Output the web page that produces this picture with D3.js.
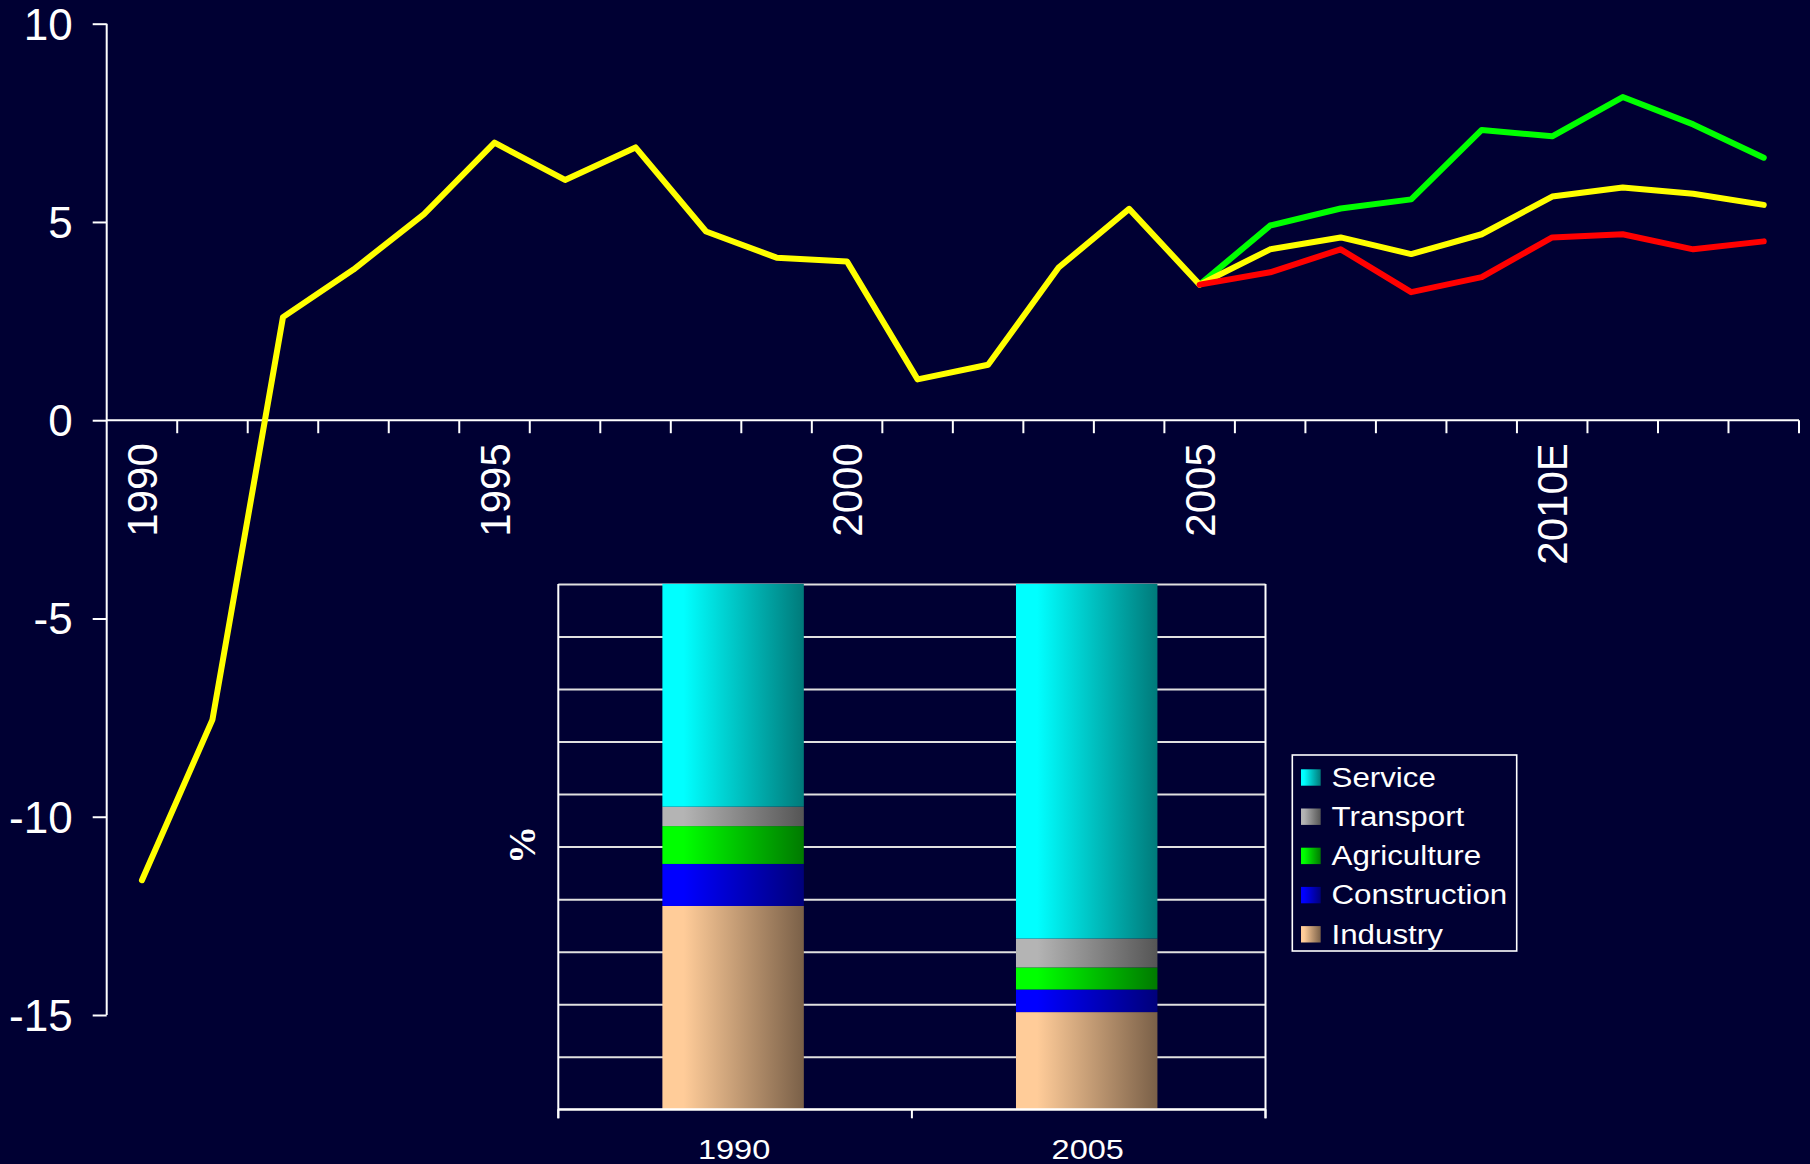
<!DOCTYPE html>
<html>
<head>
<meta charset="utf-8">
<script src="https://cdn.jsdelivr.net/npm/d3@7"></script>
<style>
  html, body { margin: 0; padding: 0; background: #000033; }
  svg { display: block; }
  text { font-family: "Liberation Sans", Arial, sans-serif; fill: #ffffff; }
</style>
</head>
<body>
<svg id="chart" width="1810" height="1164"></svg>
<script>
// ---------- data ----------
const categories = ["1990","1991","1992","1993","1994","1995","1996","1997","1998","1999",
  "2000","2001","2002","2003","2004","2005","2006E","2007E","2008E","2009E",
  "2010E","2011E","2012E","2013E"];
const shownLabels = ["1990","1995","2000","2005","2010E"];
const yTicks = [10, 5, 0, -5, -10, -15];

const baseCase = [-11.6, -7.55, 2.6, 3.8, 5.2, 7.0, 6.06, 6.88, 4.76, 4.1,
  4.0, 1.03, 1.4, 3.85, 5.33, 3.42, 4.31, 4.61, 4.19, 4.69,
  5.64, 5.87, 5.71, 5.43];
const highCase = [null, null, null, null, null, null, null, null, null, null,
  null, null, null, null, null, 3.42, 4.91, 5.34, 5.57, 7.32,
  7.16, 8.15, 7.46, 6.62];
const lowCase = [null, null, null, null, null, null, null, null, null, null,
  null, null, null, null, null, 3.42, 3.73, 4.31, 3.23, 3.61,
  4.61, 4.69, 4.31, 4.51];

const insetCategories = ["1990", "2005"];
const sectors = ["Industry", "Construction", "Agriculture", "Transport", "Service"];
const industry     = [38.7, 18.5];
const construction = [8.0, 4.3];
const agriculture  = [7.2, 4.2];
const transport    = [3.7, 5.5];
const service      = [42.4, 67.5];
const insetTicks = [0, 10, 20, 30, 40, 50, 60, 70, 80, 90, 100];

// ---------- setup ----------
const svg = d3.select("#chart");
svg.append("rect").attr("width", 1810).attr("height", 1164).attr("fill", "#000033");

// ---------- main chart ----------
const x = d3.scaleBand().domain(categories).range([106.7, 1799]).padding(0);
const y = d3.scaleLinear().domain([-15, 10]).range([1015, 23.7]);
const cx = c => x(c) + x.bandwidth() / 2;

// y axis
const yAxis = d3.axisLeft(y).tickValues(yTicks).tickSize(14).tickPadding(0).tickFormat(d => String(d));
const gy = svg.append("g").attr("transform", "translate(106.7,0)").call(yAxis);
gy.select(".domain").attr("stroke", "#fff").attr("stroke-width", 2).attr("d", `M0,${y(10)}V${y(-15)}`);
gy.selectAll(".tick line").attr("stroke", "#fff").attr("stroke-width", 2);
gy.selectAll(".tick text").attr("x", -34).attr("dy", "0.35em")
  .style("font-size", "44px").attr("fill", "#fff");

// x axis (at zero)
const gx = svg.append("g");
gx.append("line").attr("x1", x.range()[0]).attr("x2", x.range()[1])
  .attr("y1", y(0)).attr("y2", y(0)).attr("stroke", "#fff").attr("stroke-width", 2);
const bounds = categories.map(c => x(c)).concat([x.range()[1]]);
gx.selectAll("line.xt").data(bounds.slice(1)).join("line").attr("class", "xt")
  .attr("x1", d => d).attr("x2", d => d).attr("y1", y(0)).attr("y2", y(0) + 13)
  .attr("stroke", "#fff").attr("stroke-width", 2);
gx.selectAll("text.xl").data(categories.filter(c => shownLabels.includes(c))).join("text")
  .attr("class", "xl")
  .attr("transform", d => `translate(${cx(d)},${y(0) + 23}) rotate(-90)`)
  .attr("text-anchor", "end").attr("dy", "0.36em")
  .style("font-size", "42px").text(d => d);

// lines
const line = d3.line()
  .defined(d => d.v !== null)
  .x(d => cx(d.c)).y(d => y(d.v));
const mk = arr => categories.map((c, i) => ({ c, v: arr[i] }));
[[highCase, "#00ff00"], [baseCase, "#ffff00"], [lowCase, "#ff0000"]].forEach(([arr, col]) => {
  svg.append("path").datum(mk(arr)).attr("d", line)
    .attr("fill", "none").attr("stroke", col).attr("stroke-width", 6)
    .attr("stroke-linejoin", "round").attr("stroke-linecap", "round");
});

// ---------- inset stacked bar chart ----------
const colors = {
  Service:      ["#00ffff", "#007a7a"],
  Transport:    ["#b4b4b4", "#555555"],
  Agriculture:  ["#00ff00", "#007a00"],
  Construction: ["#0000ff", "#00007a"],
  Industry:     ["#ffcc99", "#7a6048"]
};
const defs = svg.append("defs");
sectors.forEach(s => {
  const g = defs.append("linearGradient").attr("id", "g_" + s)
    .attr("x1", "0%").attr("x2", "100%").attr("y1", "0%").attr("y2", "0%");
  g.append("stop").attr("offset", "0%").attr("stop-color", colors[s][0]);
  g.append("stop").attr("offset", "15%").attr("stop-color", colors[s][0]);
  g.append("stop").attr("offset", "100%").attr("stop-color", colors[s][1]);
});

const ix = d3.scaleBand().domain(insetCategories).range([558.3, 1265.5]).paddingInner(0).paddingOuter(0);
const iy = d3.scaleLinear().domain([0, 100]).range([1109.3, 583.9]);
const barW = ix.bandwidth() / 2.5;

// gridlines
const gridAxis = d3.axisLeft(iy).tickValues(insetTicks).tickSize(-(ix.range()[1] - ix.range()[0])).tickFormat("");
const gg = svg.append("g").attr("transform", `translate(${ix.range()[0]},0)`).call(gridAxis);
gg.select(".domain").remove();
gg.selectAll(".tick line").attr("stroke", "#e0e0e0").attr("stroke-width", 2);

// stacked bars
const table = insetCategories.map((c, i) => ({
  cat: c, Industry: industry[i], Construction: construction[i],
  Agriculture: agriculture[i], Transport: transport[i], Service: service[i]
}));
const stacked = d3.stack().keys(sectors)(table);
stacked.forEach(layer => {
  svg.append("g").selectAll("rect").data(layer).join("rect")
    .attr("x", d => ix(d.data.cat) + (ix.bandwidth() - barW) / 2 - 2)
    .attr("width", barW)
    .attr("y", d => iy(d[1]))
    .attr("height", d => iy(d[0]) - iy(d[1]))
    .attr("fill", `url(#g_${layer.key})`);
});

// inset borders / axis
const ia = svg.append("g").attr("stroke", "#fff").attr("stroke-width", 2);
const iBounds = insetCategories.map(c => ix(c)).concat([ix.range()[1]]);
ia.append("line").attr("x1", ix.range()[0]).attr("x2", ix.range()[1]).attr("y1", iy(0)).attr("y2", iy(0));
ia.append("line").attr("x1", ix.range()[0]).attr("x2", ix.range()[0]).attr("y1", iy(100)).attr("y2", iy(0) + 9);
ia.append("line").attr("x1", ix.range()[1]).attr("x2", ix.range()[1]).attr("y1", iy(100)).attr("y2", iy(0) + 9);
ia.selectAll("line.it").data(iBounds).join("line").attr("class", "it")
  .attr("x1", d => d).attr("x2", d => d).attr("y1", iy(0)).attr("y2", iy(0) + 9);

svg.append("g").selectAll("text").data(insetCategories).join("text")
  .attr("transform", d => `translate(${ix(d) + ix.bandwidth() / 2 - 1},1159) scale(1.16,1)`)
  .attr("text-anchor", "middle").style("font-size", "28px").text(d => d);

svg.append("text")
  .attr("transform", "translate(522,845) rotate(-90)")
  .attr("text-anchor", "middle").attr("dy", "0.35em")
  .style("font-family", "'Liberation Serif', 'Times New Roman', serif")
  .style("font-weight", "bold").style("font-size", "38px").text("%");

// legend
const legendOrder = sectors.slice().reverse();
const lg = svg.append("g");
lg.append("rect").attr("x", 1292.3).attr("y", 755).attr("width", 224.4).attr("height", 196)
  .attr("fill", "none").attr("stroke", "#fff").attr("stroke-width", 1.6);
const ly = d3.scalePoint().domain(legendOrder).range([786.7, 943.5]);
legendOrder.forEach(s => {
  lg.append("rect").attr("x", 1301).attr("y", ly(s) - 17.4).attr("width", 19.7).attr("height", 16.4)
    .attr("fill", `url(#g_${s})`);
  lg.append("text").attr("transform", `translate(1331.5,${ly(s)}) scale(1.16,1)`)
    .style("font-size", "27px").text(s);
});
</script>
</body>
</html>
